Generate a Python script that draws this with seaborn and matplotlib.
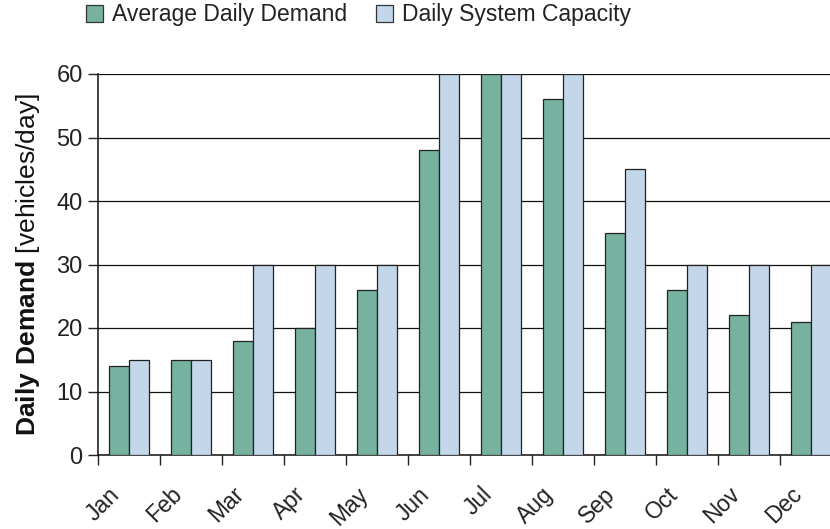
import pandas as pd
import numpy as np
import matplotlib.pyplot as plt
import seaborn as sns
from matplotlib.patches import Patch
import matplotlib.transforms as mtrans

# data
months = ['Jan', 'Feb', 'Mar', 'Apr', 'May', 'Jun', 'Jul', 'Aug', 'Sep', 'Oct', 'Nov', 'Dec']
demanda = [14, 15, 18, 20, 26, 48, 60, 56, 35, 26, 22, 21]
capacidade = [15, 15, 30, 30, 30, 60, 60, 60, 45, 30, 30, 30]
series = ['Average Daily Demand', 'Daily System Capacity']
cores = ['#76B29F', '#C3D6EA']

df = pd.DataFrame({
    'mes': months * 2,
    'valor': demanda + capacidade,
    'serie': [series[0]] * 12 + [series[1]] * 12,
})

sns.set_theme(style='white')
plt.rcParams['font.family'] = ['Liberation Sans', 'DejaVu Sans']
plt.rcParams['mathtext.fontset'] = 'custom'
plt.rcParams['mathtext.rm'] = 'Liberation Sans'
plt.rcParams['mathtext.bf'] = 'Liberation Sans:bold'

fig = plt.figure(figsize=(8.3, 5.29), dpi=100)
ax = fig.add_axes([98 / 830, 1 - 455 / 529, 744 / 830, 381 / 529])

sns.barplot(data=df, x='mes', y='valor', hue='serie', palette=cores,
            width=0.645, edgecolor='#222222', linewidth=0.9, ax=ax,
            legend=False, zorder=3, saturation=1)

ax.set_ylim(0, 60)
ax.set_xlim(-0.5, 11.5)
ax.set_yticks(range(0, 61, 10))
ax.yaxis.grid(True, color='#111111', linewidth=0.9, zorder=0)
ax.set_axisbelow(True)

# tick marks at category boundaries, labels at centers
ax.set_xticks(np.arange(-0.5, 12, 1), minor=True)
ax.tick_params(axis='x', which='major', length=0, pad=20)
ax.tick_params(axis='x', which='minor', length=7, width=1, color='#222222', direction='out', bottom=True)
ax.tick_params(axis='y', length=7, width=1, color='#222222', direction='out', left=True,
               labelsize=17, pad=4, labelcolor='#222222')
ax.set_xticks(range(12))
ax.set_xticklabels(months, rotation=45, ha='right', va='top', fontsize=16.5,
                   rotation_mode='anchor', color='#222222')
desloc = mtrans.ScaledTranslation(-21 / 100, 0, fig.dpi_scale_trans)
for lbl in ax.get_xticklabels():
    lbl.set_transform(lbl.get_transform() + desloc)

for s in ['top', 'right']:
    ax.spines[s].set_visible(False)
for s in ['left', 'bottom']:
    ax.spines[s].set_color('#111111')
    ax.spines[s].set_linewidth(1.1)

ax.set_xlabel('')
ax.set_ylabel(r'$\bf{Daily\ Demand}$ [vehicles/day]', fontsize=19, labelpad=10, color='#111111')

handles = [Patch(facecolor=c, edgecolor='#333333', linewidth=0.9) for c in cores]
fig.legend(handles, series, loc='center', bbox_to_anchor=(0.432, 0.972), ncol=2,
           frameon=False, fontsize=16.5, handlelength=0.75, handleheight=0.75,
           handletextpad=0.4, columnspacing=1.26, labelcolor='#222222')

plt.savefig('out.png', dpi=100)
